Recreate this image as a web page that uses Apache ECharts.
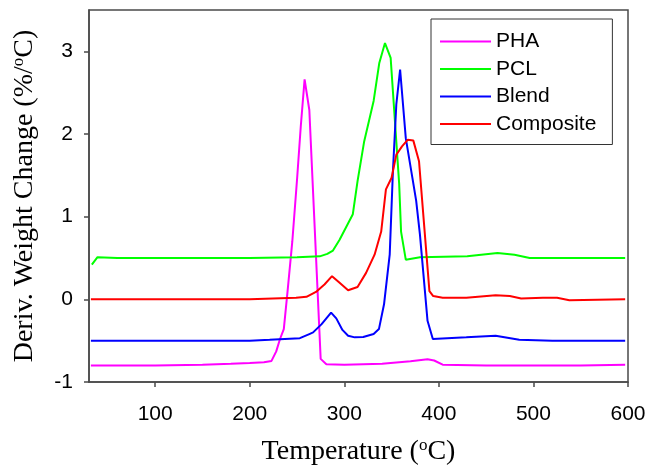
<!DOCTYPE html>
<html>
<head>
<meta charset="utf-8">
<script src="https://cdn.jsdelivr.net/npm/echarts@6/dist/echarts.min.js"></script>
<style>
html,body{margin:0;padding:0;background:#fff;}
#c{width:649px;height:472px;}
</style>
</head>
<body>
<div id="c"></div>
<script>
var seriesNames = ['PHA', 'PCL', 'Blend', 'Composite'];
var xTicks = [100, 200, 300, 400, 500, 600];
var yTicks = [-1, 0, 1, 2, 3];

var phaData = [[32,-0.80],[60,-0.80],[100,-0.80],[150,-0.79],[180,-0.78],[200,-0.77],[215,-0.76],[223,-0.745],[228,-0.63],[232,-0.48],[236,-0.36],[240,0.10],[245,0.70],[250,1.45],[254,2.10],[258,2.66],[263,2.29],[275,-0.72],[281,-0.785],[300,-0.79],[340,-0.78],[370,-0.75],[388,-0.725],[395,-0.74],[404,-0.79],[450,-0.80],[500,-0.80],[550,-0.80],[597,-0.79]];
var pclData = [[33,0.42],[39,0.51],[60,0.50],[100,0.50],[200,0.50],[250,0.51],[274,0.52],[282,0.55],[288,0.59],[295,0.72],[309,1.03],[314,1.43],[321,1.91],[331,2.40],[337,2.86],[343,3.10],[349,2.92],[358,1.40],[360,0.82],[365,0.48],[380,0.51],[430,0.52],[462,0.56],[480,0.54],[496,0.50],[550,0.50],[597,0.50]];
var blendData = [[32,-0.50],[100,-0.50],[200,-0.50],[221,-0.49],[253,-0.47],[263,-0.42],[267,-0.40],[276,-0.30],[286,-0.16],[291.5,-0.23],[298,-0.37],[304,-0.44],[311,-0.46],[320,-0.455],[331,-0.42],[336.6,-0.36],[342,-0.06],[348,0.54],[351.4,1.55],[355,2.36],[359,2.78],[365,1.95],[372,1.47],[376,1.19],[380,0.78],[388,-0.26],[393.6,-0.48],[429,-0.46],[460,-0.44],[485,-0.49],[520,-0.50],[597,-0.50]];
var compData = [[32,0.00],[100,0.00],[200,0.00],[249,0.02],[260,0.03],[270,0.09],[279,0.18],[287,0.28],[295,0.20],[304,0.11],[314,0.15],[323,0.32],[332,0.54],[339,0.82],[344,1.33],[350,1.47],[355,1.75],[361,1.85],[367,1.93],[373,1.92],[379,1.67],[390,0.10],[394,0.04],[404,0.02],[429,0.02],[460,0.05],[475,0.04],[487,0.01],[510,0.02],[525,0.02],[538,-0.01],[597,0.00]];

var colors = ['#ff00ff', '#00ff00', '#0000ff', '#ff0000'];
var allData = [phaData, pclData, blendData, compData];

var chart = echarts.init(document.getElementById('c'), null, {renderer: 'canvas'});
var axisCol = '#4a4a4a';
var serif = 'Liberation Serif, Times New Roman, serif';
var sans = 'Liberation Sans, Arial, sans-serif';
var titleRich = {
  a: {fontFamily: serif, fontSize: 28, color: '#000', lineHeight: 30},
  s: {fontFamily: serif, fontSize: 17, color: '#000', verticalAlign: 'top', lineHeight: 30}
};
var option = {
  backgroundColor: '#fff',
  animation: false,
  grid: {left: 89, right: 21, top: 10, bottom: 90, containLabel: false, outerBoundsMode: 'none',
         show: true, borderColor: axisCol, borderWidth: 1.5, backgroundColor: 'transparent'},
  legend: {
    orient: 'vertical', left: 431, top: 19,
    data: seriesNames,
    icon: 'path://M0,0L51,0L51,2L0,2Z',
    itemWidth: 51, itemHeight: 14, itemGap: 6.5,
    padding: [12, 16, 10, 9],
    borderColor: '#333', borderWidth: 1,
    textStyle: {fontFamily: sans, fontSize: 21, color: '#000', lineHeight: 21},
    itemTextGap: 18
  },
  xAxis: {
    type: 'value', min: 30, max: 600,
    axisLine: {show: true, onZero: false, lineStyle: {color: axisCol, width: 1.5}},
    axisTick: {show: true, length: 5, customValues: xTicks, lineStyle: {color: axisCol, width: 1.5}},
    axisLabel: {customValues: xTicks, fontFamily: sans, fontSize: 21, color: '#000', margin: 22},
    splitLine: {show: false},
    name: '{a|Temperature (}{s|o}{a|C)}',
    nameLocation: 'middle', nameGap: 55,
    nameTextStyle: {rich: titleRich}
  },
  yAxis: {
    type: 'value', min: -1, max: 3.5,
    axisLine: {show: true, onZero: false, lineStyle: {color: axisCol, width: 1.5}},
    axisTick: {show: true, length: 5, customValues: yTicks, lineStyle: {color: axisCol, width: 1.5}},
    axisLabel: {customValues: yTicks, fontFamily: sans, fontSize: 21, color: '#000', margin: 16},
    splitLine: {show: false},
    name: '{a|Deriv. Weight Change (%/}{s|o}{a|C)}',
    nameLocation: 'middle', nameGap: 49, nameRotate: 90,
    nameTextStyle: {rich: titleRich}
  },
  series: seriesNames.map(function (n, i) {
    return {
      name: n, type: 'line', data: allData[i], symbol: 'none', smooth: false,
      lineStyle: {color: colors[i], width: 2}, itemStyle: {color: colors[i]}
    };
  })
};
chart.setOption(option);
</script>
</body>
</html>
